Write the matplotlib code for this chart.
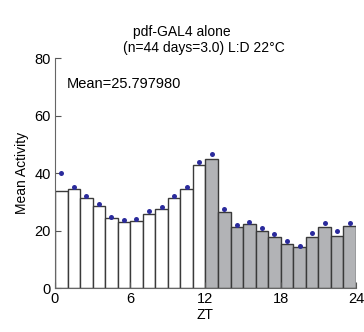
import matplotlib.pyplot as plt
import numpy as np

plt.rcParams['font.family'] = ['Liberation Sans', 'DejaVu Sans']

# mean activity per ZT hour (bars) and blue dots above each bar
zt_hours = np.arange(24)
activity = [33.9, 34.6, 31.2, 28.4, 24.3, 22.8, 23.4, 25.7, 27.6, 31.2, 34.6, 42.8,
            44.9, 26.6, 21.2, 22.1, 19.9, 17.6, 15.4, 14.2, 17.9, 21.3, 18.1, 21.5]
dots = [40.0, 35.2, 32.0, 29.2, 24.7, 23.5, 24.1, 26.9, 28.2, 32.0, 35.3, 43.8,
        46.8, 27.6, 22.0, 22.9, 21.0, 18.9, 16.5, 14.7, 19.0, 22.6, 19.9, 22.7]
xticks = [0, 6, 12, 18, 24]
yticks = [0, 20, 40, 60, 80]

fig = plt.figure(figsize=(3.64, 3.32), dpi=100)
ax = fig.add_axes([0.151, 0.1325, 0.827, 0.6925])

colors = ['white' if h < 12 else '#b2b3b6' for h in zt_hours]
ax.bar(zt_hours + 0.5, activity, width=1.0, color=colors,
       edgecolor='#3a3a3a', linewidth=1.0)
ax.plot(zt_hours + 0.5, dots, 'o', color='#2b2b9c', markersize=3.6, markeredgewidth=0)

ax.set_xlim(0, 24)
ax.set_ylim(0, 80)
ax.set_xticks(xticks)
ax.set_yticks(yticks)
ax.tick_params(direction='in', length=4, labelsize=10.5, color='#555555', pad=3)
for s in ['top', 'right']:
    ax.spines[s].set_visible(False)
for s in ['left', 'bottom']:
    ax.spines[s].set_color('#666666')
ax.set_xlabel('ZT', fontsize=10, labelpad=1)
ax.set_ylabel('Mean Activity', fontsize=10, labelpad=4)

ax.text(0.96, 71, 'Mean=25.797980', fontsize=10.5, va='center', ha='left')
fig.text(0.5, 0.905, 'pdf-GAL4 alone', fontsize=10, ha='center', va='center')
fig.text(0.56, 0.855, '(n=44 days=3.0) L:D 22\u00b0C', fontsize=10, ha='center', va='center')

fig.savefig('out.png', dpi=100)
